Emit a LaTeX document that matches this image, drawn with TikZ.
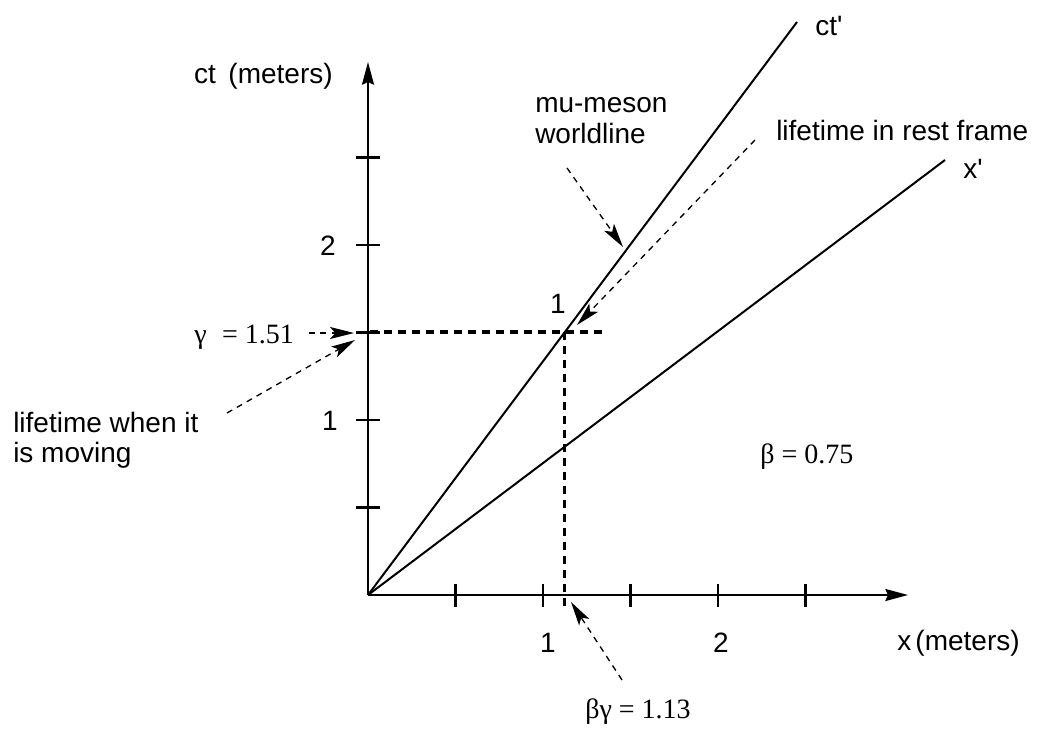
\documentclass[tikz,border=0pt]{standalone}
\usepackage{fontspec}
\setmainfont{Liberation Sans}[Ligatures=TeXOff]
\newfontfamily\serf{Liberation Serif}
\usetikzlibrary{arrows.meta}
\begin{document}
\begin{tikzpicture}[x=0.75pt,y=-0.75pt,
  lbl/.style={inner sep=0pt, font=\fontsize{21}{26}\selectfont},
  slbl/.style={inner sep=0pt, font=\fontsize{21}{24}\serf},
  axis/.style={line width=1.5pt, -{Stealth[length=17pt,width=9pt,inset=2pt]}},
  wl/.style={line width=1.5pt},
  tk/.style={line width=1.8pt},
  heavydash/.style={line width=2.3pt, dash pattern=on 6pt off 4.5pt},
  ann/.style={line width=1pt, dash pattern=on 4.5pt off 4pt, -{Stealth[length=18pt,width=9pt,inset=4pt]}}]
\useasboundingbox (0,0) rectangle (1041,728);

% key points
\coordinate (O) at (368,595);
\coordinate (Ytip) at (368,62);
\coordinate (Xtip) at (908,595);
\coordinate (CTend) at (797,22);
\coordinate (XPend) at (945,160);
\coordinate (P) at (564.5,332);
\coordinate (Hl) at (370,332);
\coordinate (Hr) at (605,332);
\coordinate (Vb) at (564.5,608);

% axes
\draw[axis] (O) -- (Xtip);
\draw[axis] (O) -- (Ytip);
\foreach \k in {1,...,5} {
  \draw[tk] (368+87.5*\k,584) -- (368+87.5*\k,607);
  \draw[tk] (356,595-87.5*\k) -- (380,595-87.5*\k);
}

% world lines
\draw[wl] (O) -- (CTend);
\draw[wl] (O) -- (XPend);

% heavy dashed projections
\draw[heavydash] (Hl) -- (Hr);
\draw[heavydash] (P) -- (Vb);

% labels
\node[lbl, anchor=base east] (ctlab) at (333,83) {ct\hspace{0.45em}(meters)};
\node[lbl, anchor=base west] (ctp) at (815,35) {ct'};
\node[lbl, anchor=base west] (xp) at (963,178) {x'};
\node[lbl, anchor=base west] (xlab) at (897,650) {x\hspace{0.15em}(meters)};
\node[lbl, anchor=base west] (mu1) at (535,112) {mu-meson};
\node[lbl, anchor=base west] (mu2) at (535,143) {worldline};
\node[lbl, anchor=base west] (rest) at (776,140) {lifetime in rest frame};
\node[lbl, anchor=base west] (mov1) at (13,432) {lifetime when it};
\node[lbl, anchor=base west] (mov2) at (13,462) {is moving};
\node[lbl, anchor=base east] (y1) at (338,430) {1};
\node[lbl, anchor=base east] (y2) at (336,255) {2};
\node[lbl, anchor=base] (x1) at (548,652) {1};
\node[lbl, anchor=base] (x2) at (721,652) {2};
\node[lbl, anchor=base] (p1) at (558,313) {1};
\node[slbl, anchor=base west] (gam) at (194,343) {γ\hspace{0.55em}= 1.51};
\node[slbl, anchor=base west] (bet) at (760,463) {β = 0.75};
\node[slbl, anchor=base west] (bg) at (585,718) {βγ = 1.13};

% annotation arrows
\coordinate (a1s) at (309,333); \coordinate (a1e) at (354,333);
\coordinate (a2s) at (227,413); \coordinate (a2e) at (355,340);
\coordinate (a3s) at (567,168); \coordinate (a3e) at (623,247);
\coordinate (a4s) at (755,140); \coordinate (a4e) at (577,325);
\coordinate (a5s) at (622,680); \coordinate (a5e) at (571,602);
\draw[ann] (a1s) -- (a1e);
\draw[ann] (a2s) -- (a2e);
\draw[ann] (a3s) -- (a3e);
\draw[ann] (a4s) -- (a4e);
\draw[ann] (a5s) -- (a5e);
\end{tikzpicture}
\end{document}
